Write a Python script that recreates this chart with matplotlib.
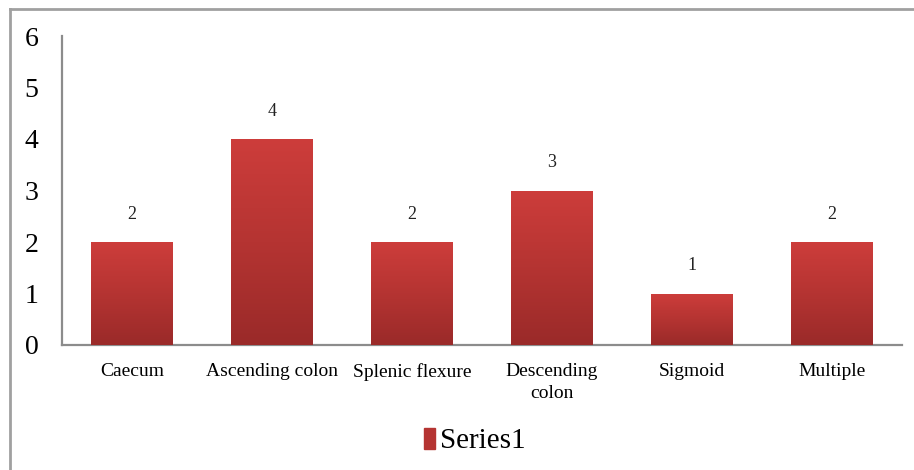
import numpy as np
import matplotlib
matplotlib.use("Agg")
import matplotlib.pyplot as plt
from matplotlib.colors import LinearSegmentedColormap
from matplotlib.lines import Line2D

# Tumour site counts
sites = ["Caecum", "Ascending colon", "Splenic flexure", "Descending\ncolon", "Sigmoid", "Multiple"]
counts = [2, 4, 2, 3, 1, 2]
yticks = [0, 1, 2, 3, 4, 5, 6]
series_name = "Series1"

plt.rcParams["font.family"] = ["Liberation Serif", "DejaVu Serif"]

fig = plt.figure(figsize=(9.14, 4.70), dpi=100)
ax = fig.add_axes([62 / 914, 125 / 470, 840 / 914, 309 / 470])

x = np.arange(len(sites))
bars = ax.bar(x, counts, width=0.58, color="#b83432", zorder=2, label=series_name)

# vertical red gradient inside each bar
grad = LinearSegmentedColormap.from_list("red_grad", ["#9a2a29", "#b53432", "#cd3d3b"])
ramp = np.linspace(0, 1, 256).reshape(-1, 1)
for b in bars:
    x0, w, h = b.get_x(), b.get_width(), b.get_height()
    im = ax.imshow(ramp, cmap=grad, origin="lower", aspect="auto",
                   extent=(x0, x0 + w, 0, h), zorder=3)
    im.set_clip_path(b)
    b.set_facecolor("none")

for xi, c in zip(x, counts):
    ax.annotate(str(c), (xi, c), xytext=(0, 14), textcoords="offset points",
                ha="center", va="bottom", fontsize=13, color="#222222")

ax.set_xlim(-0.5, len(sites) - 0.5)
ax.set_ylim(0, 6)
ax.set_yticks(yticks)
ax.set_xticks(x)
ax.set_xticklabels(sites, fontsize=14, linespacing=1.35)
ax.tick_params(axis="y", length=0, pad=17, labelsize=20)
ax.tick_params(axis="x", length=0, pad=13)

for side in ["top", "right"]:
    ax.spines[side].set_visible(False)
for side in ["left", "bottom"]:
    ax.spines[side].set_color("#8c8c8c")
    ax.spines[side].set_linewidth(1.6)

leg = fig.legend(handles=[plt.Rectangle((0, 0), 1, 1, color="#b53432")],
                 labels=[series_name], loc="center", bbox_to_anchor=(0.519, 29 / 470),
                 frameon=False, fontsize=21, handlelength=0.4, handleheight=0.75,
                 handletextpad=0.15)

# outer chart frame (top and left edges)
fig.add_artist(Line2D([10 / 914, 1.0], [1 - 9 / 470, 1 - 9 / 470],
                      transform=fig.transFigure, color="#a0a0a0", lw=2))
fig.add_artist(Line2D([10 / 914, 10 / 914], [0, 1 - 9 / 470],
                      transform=fig.transFigure, color="#a0a0a0", lw=2))

fig.savefig("out.png", dpi=100)
